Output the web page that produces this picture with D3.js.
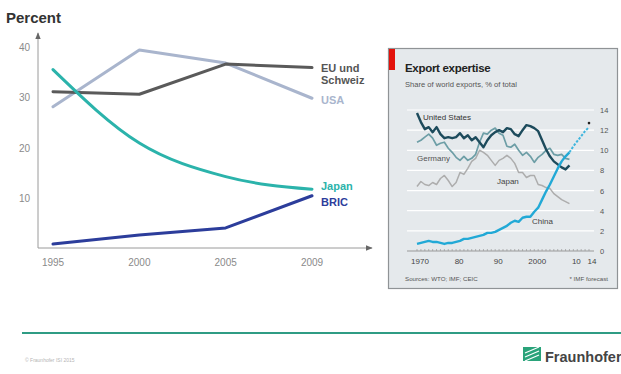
<!DOCTYPE html>
<html>
<head>
<meta charset="utf-8">
<script src="https://cdn.jsdelivr.net/npm/d3@7"></script>
<style>
  html, body { margin: 0; padding: 0; background: #fff; }
  svg { display: block; font-family: "Liberation Sans", Arial, sans-serif; }
</style>
</head>
<body>
<svg id="chart" width="621" height="374"></svg>
<script>
// ---- Main chart: share of exports by region ----
const years = ["1995", "2000", "2005", "2009"];
const yTicks = [10, 20, 30, 40];
const euValues = [31.1, 30.6, 36.6, 35.9];
const usaValues = [28.1, 39.4, 36.8, 29.8];
const japanValues = [35.5, 20.9, 14.2, 11.7];
const bricValues = [0.8, 2.6, 4.0, 10.4];

// ---- Inset: Export expertise (share of world exports, %) ----
const insetYears = d3.range(1970, 2010);
const insetXTicks = [1970, 1980, 1990, 2000, 2010, 2014];
const insetXTickLabels = ["1970", "80", "90", "2000", "10", "14"];
const insetYTicks = [0, 2, 4, 6, 8, 10, 12, 14];
const usShare = [13.7, 12.8, 12.1, 12.3, 11.8, 12.3, 11.6, 11.2, 11.3, 11.2,
                 11.3, 11.7, 11.2, 11.5, 11.0, 11.3, 10.8, 10.3, 11.0, 11.5,
                 11.8, 12.0, 11.8, 12.2, 12.1, 11.6, 11.4, 12.0, 12.5, 12.4,
                 12.2, 11.9, 11.0, 10.1, 9.4, 8.9, 8.6, 8.3, 8.1, 8.5];
const germanyShare = [10.8, 11.0, 11.3, 11.6, 11.2, 10.5, 10.7, 10.8, 10.2, 9.8,
                      9.3, 9.0, 9.4, 9.0, 9.2, 9.6, 10.8, 11.7, 11.6, 12.0,
                      12.2, 11.7, 11.5, 10.4, 10.3, 10.6, 10.0, 9.5, 9.8, 9.4,
                      8.8, 9.3, 9.6, 10.0, 10.2, 9.6, 9.5, 9.6, 9.2, 9.1];
const japanShare = [6.4, 6.9, 6.6, 6.5, 6.8, 6.6, 7.2, 7.5, 7.0, 6.4,
                    6.8, 7.8, 7.6, 8.2, 8.9, 9.2, 10.0, 9.8, 9.5, 9.0,
                    8.5, 9.0, 9.2, 9.5, 9.2, 8.7, 7.8, 7.8, 7.3, 7.5,
                    7.5, 6.6, 6.5, 6.3, 6.2, 5.7, 5.4, 5.1, 4.9, 4.7];
const chinaShare = [0.7, 0.8, 0.9, 1.0, 0.9, 0.9, 0.8, 0.7, 0.8, 0.8,
                    0.9, 1.0, 1.2, 1.2, 1.3, 1.4, 1.5, 1.6, 1.8, 1.8,
                    1.9, 2.1, 2.3, 2.5, 2.8, 3.0, 2.9, 3.3, 3.4, 3.4,
                    3.9, 4.3, 5.1, 5.9, 6.6, 7.4, 8.2, 8.9, 9.4, 9.8];
const chinaForecastYears = [2009, 2010, 2011, 2012, 2013, 2014];
const chinaForecast = [9.8, 10.4, 10.9, 11.4, 11.9, 12.3];
const imfMarker = { year: 2014, value: 12.7 };

const svg = d3.select("#chart");

// ================= Main chart =================
const x = d3.scalePoint().domain(years).range([53, 312]);
const y = d3.scaleLinear().domain([0, 40]).range([248, 47]);

svg.append("text").attr("x", 6).attr("y", 23)
  .attr("font-size", 15).attr("font-weight", "bold").attr("fill", "#333")
  .text("Percent");

const axisColor = "#9a9a9a";
const defs = svg.append("defs");
defs.append("marker").attr("id", "arrow").attr("viewBox", "0 0 10 10")
  .attr("refX", 9).attr("refY", 5).attr("markerWidth", 7).attr("markerHeight", 7)
  .attr("orient", "auto-start-reverse")
  .append("path").attr("d", "M0,1 L10,5 L0,9 Z").attr("fill", "#666");

// axes with arrowheads
svg.append("line").attr("x1", 38).attr("y1", y(0)).attr("x2", 38).attr("y2", 33)
  .attr("stroke", axisColor).attr("stroke-width", 1).attr("marker-end", "url(#arrow)");
svg.append("line").attr("x1", 38).attr("y1", y(0)).attr("x2", 372).attr("y2", y(0))
  .attr("stroke", axisColor).attr("stroke-width", 1).attr("marker-end", "url(#arrow)");

svg.append("g").selectAll("text").data(yTicks).join("text")
  .attr("x", 30).attr("y", d => y(d) + 4).attr("text-anchor", "end")
  .attr("font-size", 10).attr("fill", "#8a8a8a").text(d => d);

svg.append("g").selectAll("text").data(years).join("text")
  .attr("x", d => x(d)).attr("y", 266).attr("text-anchor", "middle")
  .attr("font-size", 10).attr("fill", "#8a8a8a").text(d => d);

const mainSeries = [
  { name: "USA", values: usaValues, color: "#a9b5cd", curve: d3.curveLinear },
  { name: "EU", values: euValues, color: "#5a5a5a", curve: d3.curveLinear },
  { name: "Japan", values: japanValues, color: "#2bb3ab", curve: d3.curveMonotoneX },
  { name: "BRIC", values: bricValues, color: "#2c3d9b", curve: d3.curveLinear }
];
svg.append("g").selectAll("path").data(mainSeries).join("path")
  .attr("d", d => d3.line().x((v, i) => x(years[i])).y(v => y(v)).curve(d.curve)(d.values))
  .attr("fill", "none")
  .attr("stroke", d => d.color).attr("stroke-width", 3)
  .attr("stroke-linejoin", "round").attr("stroke-linecap", "round");

const mainLabels = [
  { text: "EU und", y: 72, color: "#555" },
  { text: "Schweiz", y: 84, color: "#555" },
  { text: "USA", y: 104, color: "#a9b5cd" },
  { text: "Japan", y: 190, color: "#2bb3ab" },
  { text: "BRIC", y: 206, color: "#2c3d9b" }
];
svg.append("g").selectAll("text").data(mainLabels).join("text")
  .attr("x", 321).attr("y", d => d.y).attr("font-size", 11).attr("font-weight", "bold")
  .attr("fill", d => d.color).text(d => d.text);

// ================= Inset =================
const inset = svg.append("g");
inset.append("rect").attr("x", 388.5).attr("y", 48.5).attr("width", 229).attr("height", 240)
  .attr("fill", "#e5e9ec").attr("stroke", "#8f9396").attr("stroke-width", 1.2);
inset.append("rect").attr("x", 389).attr("y", 49).attr("width", 6).attr("height", 21)
  .attr("fill", "#e3120b");
inset.append("text").attr("x", 405).attr("y", 72).attr("font-size", 11.5)
  .attr("font-weight", "bold").attr("fill", "#222").attr("letter-spacing", -0.3)
  .text("Export expertise");
inset.append("text").attr("x", 405).attr("y", 87).attr("font-size", 7.6)
  .attr("fill", "#555").text("Share of world exports, % of total");

const ix = d3.scaleLinear().domain([1970, 2014]).range([417, 589]);
const iy = d3.scaleLinear().domain([0, 14]).range([251, 110]);

inset.append("g").selectAll("line").data(insetYTicks.filter(d => d > 0)).join("line")
  .attr("x1", 407).attr("x2", 594).attr("y1", d => iy(d)).attr("y2", d => iy(d))
  .attr("stroke", "#fff").attr("stroke-width", 1.2);
inset.append("g").selectAll("text").data(insetYTicks).join("text")
  .attr("x", 600).attr("y", d => iy(d) + 3).attr("font-size", 7.5)
  .attr("fill", "#555").text(d => d);

// baseline with year ticks
inset.append("line").attr("x1", 407).attr("x2", 594).attr("y1", iy(0)).attr("y2", iy(0))
  .attr("stroke", "#999").attr("stroke-width", 1);
inset.append("g").selectAll("line").data(d3.range(1970, 2015)).join("line")
  .attr("x1", d => ix(d)).attr("x2", d => ix(d)).attr("y1", iy(0)).attr("y2", iy(0) - 2)
  .attr("stroke", "#999").attr("stroke-width", 0.7);
inset.append("g").selectAll("text").data(insetXTicks).join("text")
  .attr("x", d => ix(d) + 3).attr("y", 264).attr("text-anchor", "middle")
  .attr("font-size", 8).attr("fill", "#444").text((d, i) => insetXTickLabels[i]);

const iline = d3.line().x((d, i) => ix(insetYears[i])).y(d => iy(d));
const insetSeries = [
  { values: japanShare, color: "#adadad", width: 1.5 },
  { values: germanyShare, color: "#6d9ea6", width: 1.7 },
  { values: usShare, color: "#1d4b5c", width: 2.4 },
  { values: chinaShare, color: "#22a9d6", width: 2.4 }
];
inset.append("g").selectAll("path").data(insetSeries).join("path")
  .attr("d", d => iline(d.values)).attr("fill", "none")
  .attr("stroke", d => d.color).attr("stroke-width", d => d.width)
  .attr("stroke-linejoin", "round");

inset.append("path")
  .attr("d", d3.line().x((d, i) => ix(chinaForecastYears[i])).y(d => iy(d))(chinaForecast))
  .attr("fill", "none").attr("stroke", "#3fb6de").attr("stroke-width", 2)
  .attr("stroke-dasharray", "2.5,1.5");
inset.append("circle").attr("cx", ix(imfMarker.year)).attr("cy", iy(imfMarker.value))
  .attr("r", 1.3).attr("fill", "#222");

const insetLabels = [
  { text: "United States", x: 423, y: 120, color: "#333" },
  { text: "Germany", x: 417, y: 161, color: "#555" },
  { text: "Japan", x: 497, y: 184, color: "#444" },
  { text: "China", x: 532, y: 224, color: "#444" }
];
inset.append("g").selectAll("text").data(insetLabels).join("text")
  .attr("x", d => d.x).attr("y", d => d.y).attr("font-size", 8)
  .attr("fill", d => d.color).text(d => d.text);

inset.append("text").attr("x", 405).attr("y", 281).attr("font-size", 6.2)
  .attr("fill", "#555").text("Sources: WTO; IMF; CEIC");
inset.append("text").attr("x", 608).attr("y", 281).attr("font-size", 6.2)
  .attr("text-anchor", "end").attr("fill", "#555").text("* IMF forecast");

// ================= Footer =================
svg.append("line").attr("x1", 22).attr("x2", 621).attr("y1", 333).attr("y2", 333)
  .attr("stroke", "#2f9c84").attr("stroke-width", 2.2);
svg.append("text").attr("x", 25).attr("y", 362).attr("font-size", 5)
  .attr("fill", "#b5b5b5").text("© Fraunhofer ISI 2015");

const logo = svg.append("g").attr("transform", "translate(523,347)");
logo.append("rect").attr("width", 18).attr("height", 14).attr("fill", "#2aa37a");
[3, 7, 11].forEach(o => logo.append("line").attr("x1", 2).attr("y1", o + 3)
  .attr("x2", 16).attr("y2", o - 3).attr("stroke", "#fff").attr("stroke-width", 1.2));
svg.append("text").attr("x", 545).attr("y", 362).attr("font-size", 14.5)
  .attr("font-weight", "bold").attr("fill", "#444").text("Fraunhofer");
</script>
</body>
</html>
